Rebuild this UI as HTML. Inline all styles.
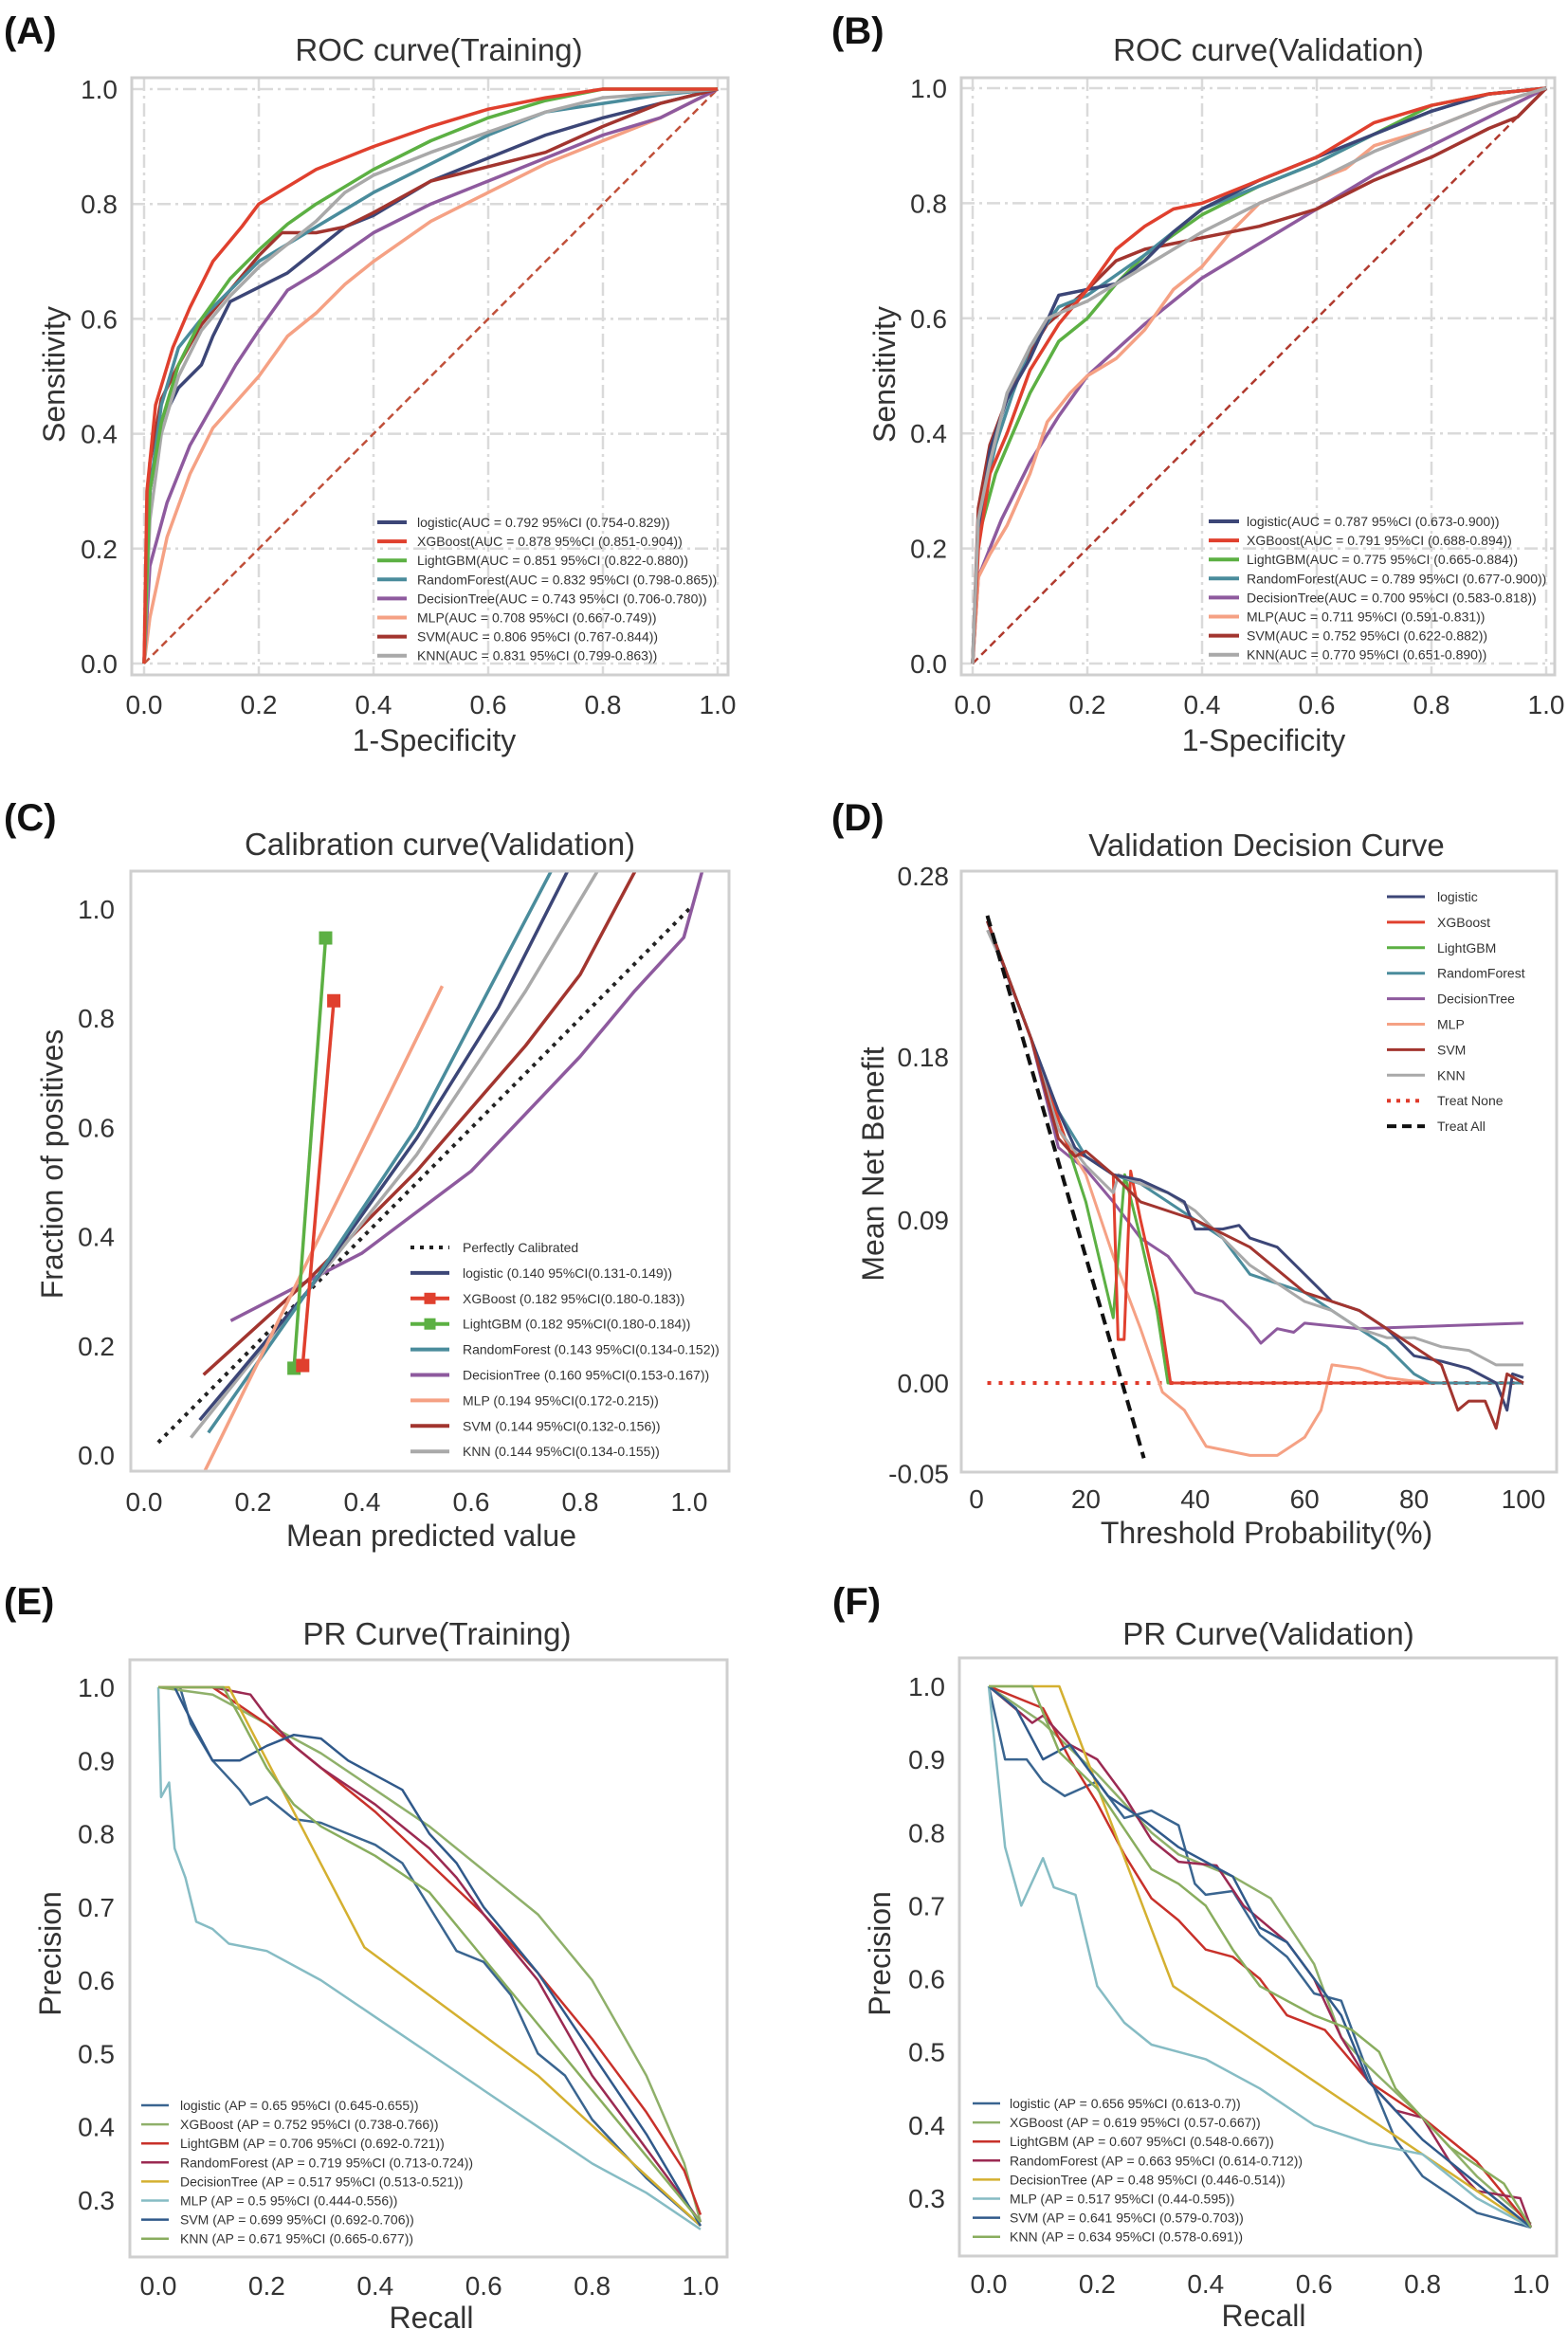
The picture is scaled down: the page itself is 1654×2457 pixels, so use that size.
<!DOCTYPE html>
<html><head><meta charset="utf-8"><style>
html,body{margin:0;padding:0;background:#fff}
svg{display:block;font-family:"Liberation Sans",Arial,sans-serif}
</style></head><body>
<svg id="fig" width="1654" height="2457" viewBox="0 0 1654 2457" xmlns="http://www.w3.org/2000/svg"></svg>
<script>
// ---------- Panel A: ROC training ----------
const rocTicks=[0,0.2,0.4,0.6,0.8,1.0];
const rocTickLabels=["0.0","0.2","0.4","0.6","0.8","1.0"];
const modelNames=["logistic","XGBoost","LightGBM","RandomForest","DecisionTree","MLP","SVM","KNN"];
const aucA=["0.792 95%CI (0.754-0.829)","0.878 95%CI (0.851-0.904)","0.851 95%CI (0.822-0.880)","0.832 95%CI (0.798-0.865)","0.743 95%CI (0.706-0.780)","0.708 95%CI (0.667-0.749)","0.806 95%CI (0.767-0.844)","0.831 95%CI (0.799-0.863)"];
const aucB=["0.787 95%CI (0.673-0.900)","0.791 95%CI (0.688-0.894)","0.775 95%CI (0.665-0.884)","0.789 95%CI (0.677-0.900)","0.700 95%CI (0.583-0.818)","0.711 95%CI (0.591-0.831)","0.752 95%CI (0.622-0.882)","0.770 95%CI (0.651-0.890)"];
const A_logistic=[[0,0],[0.01,0.3],[0.03,0.42],[0.06,0.48],[0.1,0.52],[0.12,0.57],[0.15,0.63],[0.2,0.655],[0.25,0.68],[0.3,0.72],[0.35,0.76],[0.4,0.78],[0.5,0.84],[0.6,0.88],[0.7,0.92],[0.8,0.95],[0.9,0.975],[1,1]];
const A_xgb=[[0,0],[0.005,0.3],[0.02,0.45],[0.05,0.55],[0.08,0.62],[0.12,0.7],[0.17,0.76],[0.2,0.8],[0.25,0.83],[0.3,0.86],[0.4,0.9],[0.5,0.935],[0.6,0.965],[0.7,0.985],[0.8,1],[1,1]];
const A_lgbm=[[0,0],[0.01,0.3],[0.03,0.42],[0.06,0.52],[0.1,0.6],[0.15,0.67],[0.2,0.72],[0.25,0.765],[0.3,0.8],[0.4,0.86],[0.5,0.91],[0.6,0.95],[0.7,0.98],[0.8,1],[1,1]];
const A_rf=[[0,0],[0.01,0.3],[0.03,0.45],[0.06,0.55],[0.1,0.6],[0.15,0.65],[0.2,0.7],[0.3,0.76],[0.4,0.82],[0.5,0.87],[0.6,0.92],[0.7,0.96],[0.8,0.975],[0.9,0.99],[1,1]];
const A_dt=[[0,0],[0.01,0.17],[0.04,0.28],[0.08,0.38],[0.12,0.45],[0.16,0.52],[0.2,0.58],[0.25,0.65],[0.3,0.68],[0.4,0.75],[0.5,0.8],[0.6,0.84],[0.7,0.88],[0.8,0.92],[0.9,0.95],[1,1]];
const A_mlp=[[0,0],[0.01,0.08],[0.04,0.22],[0.08,0.33],[0.12,0.41],[0.2,0.5],[0.25,0.57],[0.3,0.61],[0.35,0.66],[0.4,0.7],[0.5,0.77],[0.6,0.82],[0.7,0.87],[0.8,0.91],[0.9,0.95],[1,1]];
const A_svm=[[0,0],[0.01,0.35],[0.03,0.46],[0.06,0.52],[0.1,0.59],[0.15,0.65],[0.2,0.71],[0.24,0.75],[0.3,0.75],[0.35,0.76],[0.4,0.785],[0.5,0.84],[0.6,0.865],[0.7,0.89],[0.8,0.935],[0.9,0.975],[1,1]];
const A_knn=[[0,0],[0.01,0.25],[0.03,0.4],[0.06,0.5],[0.1,0.58],[0.15,0.64],[0.2,0.69],[0.3,0.77],[0.35,0.82],[0.4,0.85],[0.5,0.89],[0.6,0.925],[0.7,0.96],[0.8,0.985],[1,1]];
// ---------- Panel B: ROC validation ----------
const B_logistic=[[0,0],[0.01,0.22],[0.03,0.37],[0.06,0.46],[0.1,0.53],[0.15,0.64],[0.2,0.65],[0.25,0.66],[0.3,0.7],[0.35,0.75],[0.4,0.79],[0.5,0.84],[0.6,0.88],[0.7,0.92],[0.8,0.96],[0.9,0.99],[1,1]];
const B_xgb=[[0,0],[0.01,0.2],[0.03,0.33],[0.06,0.4],[0.1,0.51],[0.15,0.59],[0.2,0.65],[0.25,0.72],[0.3,0.76],[0.35,0.79],[0.4,0.8],[0.5,0.84],[0.6,0.88],[0.7,0.94],[0.8,0.97],[0.9,0.99],[1,1]];
const B_lgbm=[[0,0],[0.01,0.22],[0.04,0.33],[0.07,0.4],[0.1,0.47],[0.15,0.56],[0.2,0.6],[0.25,0.66],[0.3,0.71],[0.4,0.78],[0.5,0.83],[0.6,0.87],[0.7,0.92],[0.8,0.97],[0.9,0.99],[1,1]];
const B_rf=[[0,0],[0.01,0.25],[0.04,0.38],[0.07,0.47],[0.1,0.55],[0.15,0.62],[0.2,0.64],[0.3,0.71],[0.4,0.79],[0.5,0.83],[0.6,0.87],[0.7,0.92],[0.8,0.96],[0.9,0.99],[1,1]];
const B_dt=[[0,0],[0.01,0.15],[0.05,0.25],[0.1,0.35],[0.15,0.43],[0.2,0.5],[0.3,0.59],[0.4,0.67],[0.5,0.73],[0.6,0.79],[0.7,0.85],[0.8,0.9],[0.9,0.95],[1,1]];
const B_mlp=[[0,0],[0.01,0.15],[0.03,0.19],[0.06,0.24],[0.1,0.33],[0.13,0.42],[0.17,0.47],[0.2,0.5],[0.25,0.53],[0.3,0.58],[0.35,0.65],[0.4,0.69],[0.45,0.75],[0.5,0.8],[0.6,0.84],[0.65,0.86],[0.7,0.9],[0.8,0.93],[0.9,0.97],[1,1]];
const B_svm=[[0,0],[0.01,0.27],[0.03,0.38],[0.06,0.46],[0.1,0.54],[0.13,0.59],[0.2,0.65],[0.25,0.7],[0.3,0.72],[0.4,0.74],[0.5,0.76],[0.6,0.79],[0.7,0.84],[0.8,0.88],[0.9,0.93],[0.95,0.95],[1,1]];
const B_knn=[[0,0],[0.01,0.25],[0.03,0.35],[0.06,0.47],[0.1,0.55],[0.13,0.6],[0.2,0.63],[0.3,0.69],[0.4,0.75],[0.5,0.8],[0.6,0.84],[0.7,0.89],[0.8,0.93],[0.9,0.97],[1,1]];
// ---------- Panel C: calibration ----------
const calTickLabels=["0.0","0.2","0.4","0.6","0.8","1.0"];
const calLegend=["logistic (0.140 95%CI(0.131-0.149))","XGBoost (0.182 95%CI(0.180-0.183))","LightGBM (0.182 95%CI(0.180-0.184))","RandomForest (0.143 95%CI(0.134-0.152))","DecisionTree (0.160 95%CI(0.153-0.167))","MLP (0.194 95%CI(0.172-0.215))","SVM (0.144 95%CI(0.132-0.156))","KNN (0.144 95%CI(0.134-0.155))"];
const C_perfect=[[0.026,0.023],[1.0,1.0]];
const C_logistic=[[0.102,0.064],[0.3,0.3],[0.5,0.58],[0.65,0.82],[0.777,1.07]];
const C_xgb=[[0.291,0.164],[0.348,0.832]];
const C_lgbm=[[0.275,0.159],[0.333,0.947]];
const C_rf=[[0.118,0.041],[0.3,0.3],[0.5,0.6],[0.747,1.07]];
const C_dt=[[0.159,0.246],[0.4,0.37],[0.6,0.52],[0.8,0.73],[0.9,0.85],[0.99,0.948],[1.024,1.07]];
const C_mlp=[[0.112,-0.028],[0.547,0.859]];
const C_svm=[[0.109,0.147],[0.3,0.32],[0.5,0.52],[0.7,0.75],[0.8,0.88],[0.901,1.07]];
const C_knn=[[0.086,0.032],[0.3,0.3],[0.5,0.55],[0.7,0.85],[0.832,1.07]];
// ---------- Panel D: decision curve ----------
const dcaXTicks=[0,20,40,60,80,100];
const dcaYTicks=[-0.05,0,0.09,0.18,0.28];
const dcaYLabels=["-0.05","0.00","0.09","0.18","0.28"];
const D_treatAll=[[2,0.258],[30.6,-0.0415]];
const D_treatNone=[[2,0],[100,0]];
const D_logistic=[[2,0.255],[5,0.23],[10,0.19],[15,0.15],[18,0.13],[20,0.125],[25,0.115],[30,0.112],[35,0.105],[38,0.1],[40,0.085],[45,0.085],[48,0.087],[50,0.08],[55,0.075],[60,0.06],[65,0.045],[70,0.04],[75,0.03],[80,0.015],[85,0.012],[90,0.008],[95,0.0],[97,-0.015],[98,0.005],[100,0.003]];
const D_xgb=[[2,0.255],[10,0.19],[17,0.128],[20,0.125],[25,0.115],[25.9,0.024],[27,0.024],[28.2,0.117],[30,0.09],[33,0.05],[35.5,0],[100,0]];
const D_lgbm=[[2,0.255],[10,0.19],[17,0.128],[20,0.1],[25,0.036],[27.1,0.115],[30,0.08],[33,0.04],[35,0],[100,0]];
const D_rf=[[2,0.255],[10,0.19],[15,0.15],[20,0.125],[25,0.115],[30,0.11],[35,0.1],[40,0.09],[45,0.08],[50,0.06],[55,0.055],[60,0.05],[65,0.04],[70,0.03],[75,0.02],[80,0.005],[83,0],[100,0]];
const D_dt=[[2,0.255],[10,0.19],[15,0.13],[17,0.125],[20,0.118],[25,0.1],[30,0.08],[35,0.07],[40,0.05],[45,0.045],[50,0.03],[52,0.022],[55,0.03],[58,0.028],[60,0.033],[70,0.03],[100,0.033]];
const D_mlp=[[2,0.255],[10,0.19],[15,0.14],[20,0.115],[25,0.07],[30,0.03],[34,-0.005],[38,-0.015],[42,-0.035],[50,-0.04],[55,-0.04],[60,-0.03],[63,-0.015],[65,0.01],[70,0.008],[75,0.003],[80,0.001],[85,0],[100,0]];
const D_svm=[[2,0.255],[10,0.19],[15,0.135],[18,0.125],[20,0.128],[25,0.115],[30,0.1],[40,0.09],[50,0.075],[60,0.05],[70,0.04],[75,0.03],[80,0.02],[85,0.01],[88,-0.015],[90,-0.01],[93,-0.01],[95,-0.025],[97,0.005],[100,0]];
const D_knn=[[2,0.25],[5,0.23],[10,0.19],[15,0.14],[20,0.12],[25,0.105],[26,0.115],[30,0.11],[35,0.105],[40,0.095],[45,0.08],[50,0.065],[55,0.055],[60,0.045],[65,0.04],[70,0.03],[75,0.025],[80,0.025],[85,0.02],[90,0.018],[95,0.01],[100,0.01]];
// ---------- Panel E: PR training ----------
const prYTicks=[0.3,0.4,0.5,0.6,0.7,0.8,0.9,1.0];
const prYLabels=["0.3","0.4","0.5","0.6","0.7","0.8","0.9","1.0"];
const apE=["0.65 95%CI (0.645-0.655)","0.752 95%CI (0.738-0.766)","0.706 95%CI (0.692-0.721)","0.719 95%CI (0.713-0.724)","0.517 95%CI (0.513-0.521)","0.5 95%CI (0.444-0.556)","0.699 95%CI (0.692-0.706)","0.671 95%CI (0.665-0.677)"];
const apF=["0.656 95%CI (0.613-0.7)","0.619 95%CI (0.57-0.667)","0.607 95%CI (0.548-0.667)","0.663 95%CI (0.614-0.712)","0.48 95%CI (0.446-0.514)","0.517 95%CI (0.44-0.595)","0.641 95%CI (0.579-0.703)","0.634 95%CI (0.578-0.691)"];
const E_logistic=[[0.04,1.0],[0.06,0.95],[0.1,0.9],[0.15,0.86],[0.17,0.84],[0.2,0.85],[0.25,0.82],[0.3,0.815],[0.35,0.8],[0.4,0.785],[0.45,0.76],[0.5,0.7],[0.55,0.64],[0.6,0.625],[0.65,0.58],[0.7,0.5],[0.75,0.47],[0.8,0.41],[0.9,0.33],[1,0.265]];
const E_xgb=[[0,1],[0.1,0.99],[0.2,0.95],[0.3,0.91],[0.4,0.86],[0.5,0.81],[0.6,0.75],[0.7,0.69],[0.8,0.6],[0.9,0.47],[0.97,0.35],[1,0.27]];
const E_lgbm=[[0,1],[0.1,1],[0.2,0.95],[0.3,0.89],[0.4,0.83],[0.5,0.76],[0.6,0.69],[0.7,0.61],[0.8,0.52],[0.9,0.42],[0.97,0.34],[1,0.28]];
const E_rf=[[0.1,1],[0.17,0.99],[0.2,0.96],[0.25,0.92],[0.3,0.89],[0.4,0.84],[0.5,0.78],[0.55,0.74],[0.6,0.69],[0.7,0.6],[0.8,0.47],[0.9,0.37],[1,0.27]];
const E_dt=[[0,1],[0.13,1],[0.38,0.645],[0.7,0.47],[1,0.265]];
const E_mlp=[[0,1],[0.005,0.85],[0.02,0.87],[0.03,0.78],[0.05,0.74],[0.07,0.68],[0.1,0.67],[0.13,0.65],[0.2,0.64],[0.3,0.6],[0.4,0.55],[0.5,0.5],[0.6,0.45],[0.7,0.4],[0.8,0.35],[0.9,0.31],[1,0.26]];
const E_svm=[[0.03,1.0],[0.05,0.97],[0.1,0.9],[0.15,0.9],[0.2,0.92],[0.25,0.935],[0.3,0.93],[0.35,0.9],[0.45,0.86],[0.5,0.8],[0.55,0.76],[0.6,0.7],[0.7,0.61],[0.8,0.5],[0.9,0.39],[1,0.265]];
const E_knn=[[0,1],[0.12,1],[0.15,0.96],[0.2,0.89],[0.25,0.84],[0.3,0.81],[0.4,0.77],[0.5,0.72],[0.6,0.63],[0.7,0.54],[0.8,0.45],[0.9,0.36],[1,0.27]];
// ---------- Panel F: PR validation ----------
const F_logistic=[[0,1],[0.03,0.9],[0.07,0.9],[0.1,0.87],[0.14,0.85],[0.2,0.87],[0.25,0.82],[0.3,0.83],[0.35,0.81],[0.38,0.73],[0.4,0.715],[0.45,0.72],[0.5,0.66],[0.55,0.63],[0.6,0.58],[0.65,0.57],[0.7,0.47],[0.75,0.38],[0.8,0.33],[0.9,0.28],[1,0.26]];
const F_xgb=[[0,1],[0.1,0.95],[0.2,0.88],[0.3,0.8],[0.35,0.77],[0.45,0.74],[0.52,0.71],[0.6,0.62],[0.65,0.52],[0.7,0.48],[0.8,0.41],[0.9,0.33],[1,0.265]];
const F_lgbm=[[0,1],[0.1,0.97],[0.15,0.9],[0.2,0.84],[0.25,0.77],[0.3,0.71],[0.35,0.68],[0.4,0.64],[0.45,0.63],[0.5,0.6],[0.55,0.55],[0.62,0.53],[0.7,0.46],[0.8,0.41],[0.9,0.35],[1,0.26]];
const F_rf=[[0,1],[0.08,0.95],[0.1,0.96],[0.15,0.92],[0.2,0.9],[0.25,0.85],[0.3,0.79],[0.35,0.76],[0.42,0.755],[0.47,0.7],[0.55,0.65],[0.6,0.6],[0.65,0.52],[0.7,0.46],[0.75,0.42],[0.8,0.41],[0.85,0.35],[0.9,0.31],[0.98,0.3],[1,0.26]];
const F_dt=[[0,1],[0.13,1],[0.34,0.59],[1,0.26]];
const F_mlp=[[0,1],[0.03,0.78],[0.06,0.7],[0.1,0.765],[0.12,0.725],[0.16,0.715],[0.2,0.59],[0.25,0.54],[0.3,0.51],[0.35,0.5],[0.4,0.49],[0.5,0.45],[0.6,0.4],[0.7,0.375],[0.8,0.36],[0.9,0.3],[1,0.26]];
const F_svm=[[0,1],[0.05,0.97],[0.1,0.9],[0.15,0.92],[0.22,0.85],[0.28,0.82],[0.35,0.78],[0.45,0.74],[0.5,0.67],[0.55,0.65],[0.6,0.6],[0.65,0.55],[0.7,0.46],[0.75,0.42],[0.8,0.38],[0.9,0.32],[1,0.26]];
const F_knn=[[0,1],[0.08,1],[0.13,0.91],[0.2,0.86],[0.3,0.75],[0.35,0.73],[0.4,0.7],[0.45,0.64],[0.5,0.59],[0.6,0.55],[0.67,0.53],[0.72,0.5],[0.75,0.45],[0.85,0.37],[0.95,0.32],[1,0.26]];

const rocColors=["#3c4677","#e0402e","#5cb043","#4a8c9c","#8e5a9e","#f5a184","#a2352f","#a9a9a9"];
const prColors=["#3a6590","#8fb06a","#c8312a","#9b2a52","#d4b030","#86bcc4","#30598a","#89ad5e"];

const NS="http://www.w3.org/2000/svg";
const fig=document.getElementById('fig');
function mk(tag,attrs,parent,text){const e=document.createElementNS(NS,tag);for(const k in attrs)e.setAttribute(k,attrs[k]);if(text!==undefined)e.textContent=text;(parent||fig).appendChild(e);return e;}
function lin(d0,p0,d1,p1){return v=>p0+(v-d0)*(p1-p0)/(d1-d0);}
let clipN=0;
function panel(c){
  const g=mk('g',{});
  
  
  const lt=mk('text',{x:c.letterX,y:c.letterY,'font-size':40,'font-weight':'bold',fill:'#111'},g,c.letter);
  
  
  const tt=mk('text',{x:c.titleX,y:c.titleY,'font-size':33,'text-anchor':'middle',fill:'#333'},g,c.title);
  
  
  const id='clip'+(clipN++);
  const cp=mk('clipPath',{id:id},g);
  mk('rect',{x:c.fx0,y:c.fy0,width:c.fx1-c.fx0,height:c.fy1-c.fy0},cp);
  const X=c.X,Y=c.Y;
  if(c.grid){
    c.xTicks.forEach(t=>{const gl=mk('line',{x1:X(t),x2:X(t),y1:c.fy0,y2:c.fy1,stroke:'#dadada','stroke-width':2.5,'stroke-dasharray':'14 5 3 5'},g);});
    c.yTicks.forEach(t=>{const gl=mk('line',{y1:Y(t),y2:Y(t),x1:c.fx0,x2:c.fx1,stroke:'#dadada','stroke-width':2.5,'stroke-dasharray':'14 5 3 5'},g);});
  }
  c.xTicks.forEach((t,i)=>{const e=mk('text',{x:X(t),y:c.xTickY,'font-size':28,'text-anchor':'middle',fill:'#333'},g,c.xLabels[i]);});
  c.yTicks.forEach((t,i)=>{const e=mk('text',{x:c.yTickX,y:Y(t)+10,'font-size':28,'text-anchor':'end',fill:'#333'},g,c.yLabels[i]);});
  const xl=mk('text',{x:c.xLabX,y:c.xLabY,'font-size':32,'text-anchor':'middle',fill:'#333'},g,c.xLab);
  
  
  const yl=mk('text',{x:0,y:0,'font-size':32,'text-anchor':'middle',fill:'#333',transform:`translate(${c.yLabX},${c.yLabY}) rotate(-90)`},g,c.yLab);
  
  
  const sg=mk('g',{'clip-path':`url(#${id})`},g);
  c.series.forEach(s=>{
    const d=s.data.map((p,i)=>(i?'L':'M')+X(p[0]).toFixed(1)+','+Y(p[1]).toFixed(1)).join('');
    const a={d:d,fill:'none',stroke:s.color,'stroke-width':s.w||3,'stroke-linejoin':'round'};
    if(s.dash)a['stroke-dasharray']=s.dash;
    const pe=mk('path',a,sg);
    
    
    if(s.marker){s.data.forEach(p=>{const m=mk('rect',{x:X(p[0])-7,y:Y(p[1])-7,width:14,height:14,fill:s.color},g);});}
  });
  const fr=mk('rect',{x:c.fx0,y:c.fy0,width:c.fx1-c.fx0,height:c.fy1-c.fy0,fill:'none',stroke:'#cfcfcf','stroke-width':3},g);
  
  
  const lg=mk('g',{},g);
  
  
  c.legend.forEach((L,i)=>{
    const y=c.lgY+i*c.lgStep;
    const a={x1:c.lgX0,x2:c.lgX1,y1:y,y2:y,stroke:L.color,'stroke-width':L.w||4};
    if(L.dash)a['stroke-dasharray']=L.dash;
    const ln=mk('line',a,lg);
    
    
    if(L.marker){const m=mk('rect',{x:(c.lgX0+c.lgX1)/2-6,y:y-6,width:12,height:12,fill:L.color},lg);}
    const tx=mk('text',{x:c.lgTX,y:y+5,'font-size':c.lgFont||14,fill:'#333'},lg,L.text);
    
    
  });
}
const keys=["logistic","xgboost","lightgbm","randomforest","decisiontree","mlp","svm","knn"];
function mkSeries(arrs,colors,w){return arrs.map((a,i)=>({key:keys[i],data:a,color:colors[i],w:w}));}

// A
const XA=lin(0,152,1,757),YA=lin(0,700,1,94);
panel({name:'panel-a-roc-training',letter:'(A)',letterX:4,letterY:46,title:'ROC curve(Training)',titleX:463,titleY:64,
 fx0:139,fy0:82,fx1:768,fy1:712,X:XA,Y:YA,grid:true,xTicks:rocTicks,yTicks:rocTicks,xLabels:rocTickLabels,yLabels:rocTickLabels,
 xTickY:753,yTickX:124,xLab:'1-Specificity',xLabX:458,xLabY:792,yLab:'Sensitivity',yLabX:68,yLabY:395,
 series:[{key:'chance',data:[[0,0],[1,1]],color:'#c0503a',w:2.5,dash:'8 5'}].concat(mkSeries([A_mlp,A_dt,A_logistic,A_svm,A_rf,A_knn,A_lgbm,A_xgb],[rocColors[5],rocColors[4],rocColors[0],rocColors[6],rocColors[3],rocColors[7],rocColors[2],rocColors[1]],3.5)),
 legend:modelNames.map((n,i)=>({color:rocColors[i],text:n+'(AUC = '+aucA[i]+')'})),lgX0:398,lgX1:429,lgTX:440,lgY:551,lgStep:20.1});
// B
const XB=lin(0,1026,1,1631),YB=lin(0,700,1,93);
panel({name:'panel-b-roc-validation',letter:'(B)',letterX:877,letterY:46,title:'ROC curve(Validation)',titleX:1338,titleY:64,
 fx0:1014,fy0:82,fx1:1640,fy1:712,X:XB,Y:YB,grid:true,xTicks:rocTicks,yTicks:rocTicks,xLabels:rocTickLabels,yLabels:rocTickLabels,
 xTickY:753,yTickX:999,xLab:'1-Specificity',xLabX:1333,xLabY:792,yLab:'Sensitivity',yLabX:944,yLabY:395,
 series:[{key:'chance',data:[[0,0],[1,1]],color:'#b03a2e',w:2.5,dash:'8 5'}].concat(mkSeries([B_dt,B_mlp,B_svm,B_lgbm,B_rf,B_logistic,B_xgb,B_knn],[rocColors[4],rocColors[5],rocColors[6],rocColors[2],rocColors[3],rocColors[0],rocColors[1],rocColors[7]],3.5)),
 legend:modelNames.map((n,i)=>({color:rocColors[i],text:n+'(AUC = '+aucB[i]+')'})),lgX0:1275,lgX1:1307,lgTX:1315,lgY:550,lgStep:20.1});
// C
const XC=lin(0,152,1,727),YC=lin(0,1535,1,959);
const cSeries=[
 {key:'perfectly-calibrated',data:C_perfect,color:'#222',w:4,dash:'4 6'},
 {key:'decisiontree',data:C_dt,color:rocColors[4],w:3.5},
 {key:'svm',data:C_svm,color:rocColors[6],w:3.5},
 {key:'knn',data:C_knn,color:rocColors[7],w:3.5},
 {key:'logistic',data:C_logistic,color:rocColors[0],w:3.5},
 {key:'randomforest',data:C_rf,color:rocColors[3],w:3.5},
 {key:'mlp',data:C_mlp,color:rocColors[5],w:3.5},
 {key:'lightgbm',data:C_lgbm,color:rocColors[2],w:3.5,marker:true},
 {key:'xgboost',data:C_xgb,color:rocColors[1],w:3.5,marker:true}];
panel({name:'panel-c-calibration',letter:'(C)',letterX:4,letterY:876,title:'Calibration curve(Validation)',titleX:464,titleY:902,
 fx0:138,fy0:919,fx1:769,fy1:1552,X:XC,Y:YC,grid:false,xTicks:rocTicks,yTicks:rocTicks,xLabels:calTickLabels,yLabels:calTickLabels,
 xTickY:1594,yTickX:121,xLab:'Mean predicted value',xLabX:455,xLabY:1631,yLab:'Fraction of positives',yLabX:66,yLabY:1228,
 series:cSeries,
 legend:[{color:'#222',text:'Perfectly Calibrated',dash:'4 6'}].concat(calLegend.map((t,i)=>({color:rocColors[i],text:t,marker:(i==1||i==2)}))),
 lgX0:433,lgX1:474,lgTX:488,lgY:1316,lgStep:26.9});
// D
const XD=lin(0,1030,100,1607),YD=lin(0,1459,0.09,1287);
const dSeries=[
 {key:'treat-none',data:D_treatNone,color:'#e03a2a',w:4,dash:'4 8'},
 {key:'decisiontree',data:D_dt,color:rocColors[4],w:3},
 {key:'mlp',data:D_mlp,color:rocColors[5],w:3},
 {key:'lightgbm',data:D_lgbm,color:rocColors[2],w:3},
 {key:'xgboost',data:D_xgb,color:rocColors[1],w:3},
 {key:'randomforest',data:D_rf,color:rocColors[3],w:3},
 {key:'knn',data:D_knn,color:rocColors[7],w:3},
 {key:'logistic',data:D_logistic,color:rocColors[0],w:3},
 {key:'svm',data:D_svm,color:rocColors[6],w:3},
 {key:'treat-all',data:D_treatAll,color:'#111',w:4,dash:'12 7'}];
panel({name:'panel-d-decision-curve',letter:'(D)',letterX:877,letterY:876,title:'Validation Decision Curve',titleX:1336,titleY:903,
 fx0:1014,fy0:919,fx1:1642,fy1:1553,X:XD,Y:YD,grid:false,xTicks:dcaXTicks,yTicks:dcaYTicks,xLabels:dcaXTicks.map(String),yLabels:dcaYLabels,
 xTickY:1591,yTickX:1001,xLab:'Threshold Probability(%)',xLabX:1336,xLabY:1628,yLab:'Mean Net Benefit',yLabX:932,yLabY:1228,
 series:dSeries,
 legend:modelNames.map((n,i)=>({color:rocColors[i],text:n,w:3})).concat([{color:'#e03a2a',text:'Treat None',dash:'4 6',w:4},{color:'#111',text:'Treat All',dash:'10 6',w:4}]),
 lgX0:1463,lgX1:1503,lgTX:1516,lgY:946,lgStep:26.9});
// E
const XE=lin(0,167,1,739),YE=lin(0.3,2321,1,1780);
panel({name:'panel-e-pr-training',letter:'(E)',letterX:4,letterY:1703,title:'PR Curve(Training)',titleX:461,titleY:1735,
 fx0:137,fy0:1751,fx1:767,fy1:2381,X:XE,Y:YE,grid:false,xTicks:rocTicks,yTicks:prYTicks,xLabels:rocTickLabels,yLabels:prYLabels,
 xTickY:2421,yTickX:121,xLab:'Recall',xLabX:455,xLabY:2456,yLab:'Precision',yLabX:64,yLabY:2061,
 series:mkSeries([E_logistic,E_xgb,E_lgbm,E_rf,E_dt,E_mlp,E_svm,E_knn],prColors,2.5),
 legend:modelNames.map((n,i)=>({color:prColors[i],text:n+' (AP = '+apE[i]+')',w:2.5})),lgX0:149,lgX1:178,lgTX:190,lgY:2221,lgStep:20.1});
// F
const XF=lin(0,1043,1,1615),YF=lin(0.3,2319,1,1779);
panel({name:'panel-f-pr-validation',letter:'(F)',letterX:878,letterY:1703,title:'PR Curve(Validation)',titleX:1338,titleY:1735,
 fx0:1012,fy0:1749,fx1:1642,fy1:2380,X:XF,Y:YF,grid:false,xTicks:rocTicks,yTicks:prYTicks,xLabels:rocTickLabels,yLabels:prYLabels,
 xTickY:2419,yTickX:997,xLab:'Recall',xLabX:1333,xLabY:2454,yLab:'Precision',yLabX:939,yLabY:2061,
 series:mkSeries([F_logistic,F_xgb,F_lgbm,F_rf,F_dt,F_mlp,F_svm,F_knn],prColors,2.5),
 legend:modelNames.map((n,i)=>({color:prColors[i],text:n+' (AP = '+apF[i]+')',w:2.5})),lgX0:1026,lgX1:1055,lgTX:1065,lgY:2219,lgStep:20.1});
</script>
</body></html>
